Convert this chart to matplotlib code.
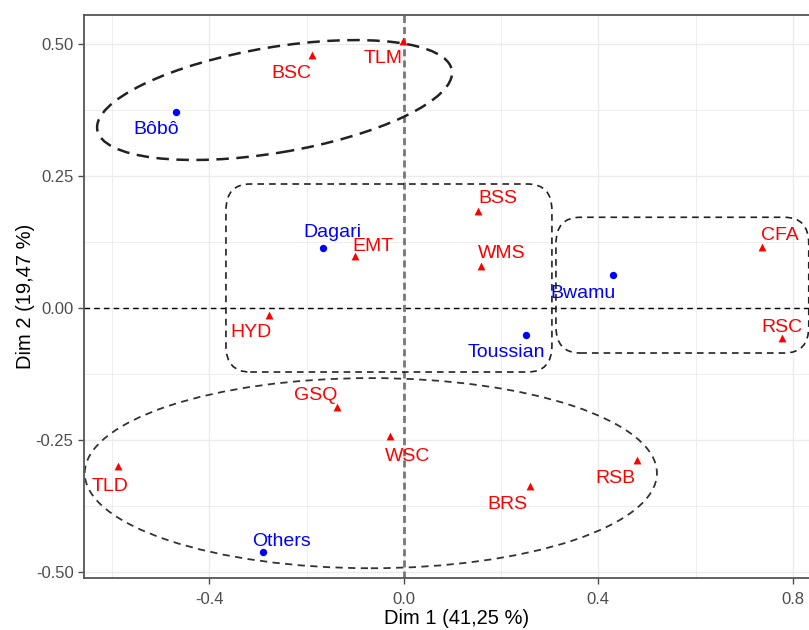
import numpy as np
import matplotlib.pyplot as plt
from matplotlib.patches import Ellipse, FancyBboxPatch

plt.rcParams['font.family'] = ['Liberation Sans', 'DejaVu Sans']

# Column points (red triangles)
col_names = ['TLM', 'BSC', 'BSS', 'WMS', 'EMT', 'CFA', 'HYD', 'RSC', 'GSQ',
             'WSC', 'TLD', 'RSB', 'BRS']
col_x = [-0.002, -0.189, 0.152, 0.158, -0.101, 0.737, -0.278, 0.777, -0.138,
         -0.029, -0.588, 0.479, 0.259]
col_y = [0.506, 0.479, 0.184, 0.080, 0.098, 0.116, -0.013, -0.057, -0.187,
         -0.243, -0.299, -0.288, -0.337]

# Row points (blue dots)
row_names = ['Bôbô', 'Dagari', 'Bwamu', 'Toussian', 'Others']
row_x = [-0.469, -0.167, 0.430, 0.251, -0.290]
row_y = [0.371, 0.114, 0.062, -0.051, -0.462]

# label offsets (pixels) as placed by the repel step
col_off = [(-20, -18), (-21, -18), (20, 12), (21, 12), (18, 10), (18, 11),
           (-18, -18), (0, 11), (-21, 11), (18, -20), (-8, -20), (-21, -18),
           (-22, -18)]
row_off = [(-20, -17), (10, 15), (-30, -18), (-20, -17), (19, 11)]

fig = plt.figure(figsize=(8.09, 6.30), dpi=100)
ax = fig.add_axes([84 / 809, 52 / 630, 746 / 809, 563 / 630])
ax.set_xlim(-0.658, 0.8765)
ax.set_ylim(-0.511, 0.555)

# grid like theme_bw
for v in np.arange(-0.6, 0.81, 0.2):
    lw = 1.0 if abs(round(v / 0.4) * 0.4 - v) < 1e-9 else 0.6
    ax.axvline(v, color='#EBEBEB', lw=lw, zorder=0)
for v in np.arange(-0.5, 0.51, 0.125):
    lw = 1.0 if abs(round(v / 0.25) * 0.25 - v) < 1e-9 else 0.6
    ax.axhline(v, color='#EBEBEB', lw=lw, zorder=0)

ax.axhline(0, color='black', lw=1.0, ls=(0, (4, 3)), zorder=1)
ax.axvline(0, color='#777777', lw=2.0, ls=(0, (2.5, 1.5)), zorder=1)

# group outlines
ax.add_patch(Ellipse((-0.266, 0.394), 2 * 0.369, 2 * 0.100, angle=8.7,
                     fill=False, ec='#222222', lw=1.8, ls=(0, (5, 3))))
ax.add_patch(Ellipse((-0.068, -0.3125), 1.177, 0.360, fill=False,
                     ec='#333333', lw=1.3, ls=(0, (4, 3))))
ax.add_patch(FancyBboxPatch((-0.366, -0.121), 0.6705, 0.356,
                            boxstyle='round,pad=0,rounding_size=0.05',
                            fill=False, ec='#222222', lw=1.2, ls=(0, (4, 3))))
ax.add_patch(FancyBboxPatch((0.3128, -0.085), 0.52, 0.257,
                            boxstyle='round,pad=0,rounding_size=0.05',
                            fill=False, ec='#222222', lw=1.2, ls=(0, (4, 3))))

ax.scatter(col_x, col_y, marker='^', s=32, color='#FF0000', zorder=3, lw=0)
ax.scatter(row_x, row_y, marker='o', s=28, color='#0000FF', zorder=3, lw=0)

for n, x, y, o in zip(col_names, col_x, col_y, col_off):
    ax.annotate(n, (x, y), xytext=o, textcoords='offset pixels',
                ha='center', va='center', color='#FF0000', fontsize=14)
for n, x, y, o in zip(row_names, row_x, row_y, row_off):
    ax.annotate(n, (x, y), xytext=o, textcoords='offset pixels',
                ha='center', va='center', color='#0000FF', fontsize=14)

ax.set_xticks([-0.4, 0.0, 0.4, 0.8])
ax.set_xticklabels(['-0.4', '0.0', '0.4', '0.8'])
ax.set_yticks([-0.5, -0.25, 0, 0.25, 0.5])
ax.set_yticklabels(['-0.50', '-0.25', '0.00', '0.25', '0.50'])
ax.tick_params(colors='#4D4D4D', labelsize=12, length=4, width=1)
ax.tick_params(axis='x', pad=6)
for s in ax.spines.values():
    s.set_color('#555555')
    s.set_linewidth(1.3)

ax.set_xlabel('Dim 1 (41,25 %)', fontsize=14.5, labelpad=1.5)
ax.set_ylabel('Dim 2 (19,47 %)', fontsize=14.5, labelpad=0.5)

fig.savefig('out.png', dpi=100)
